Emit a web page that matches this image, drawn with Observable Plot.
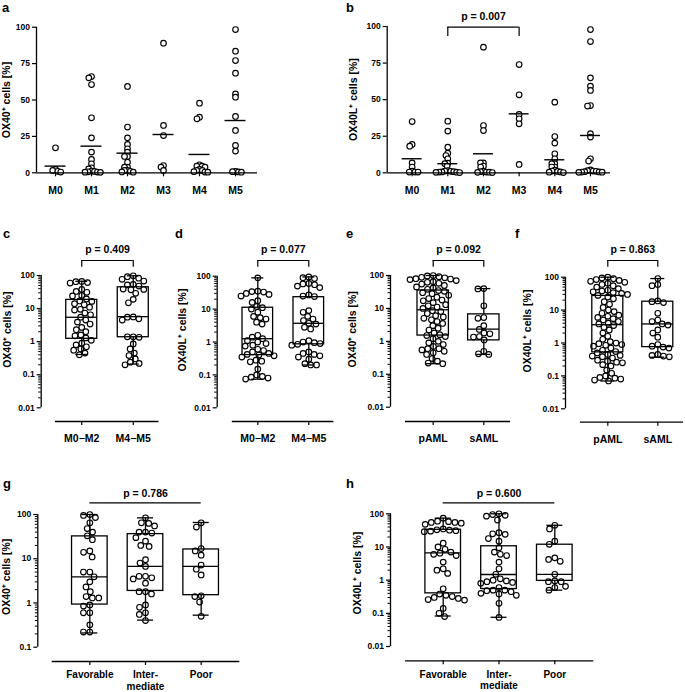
<!DOCTYPE html>
<html><head><meta charset="utf-8">
<script src="https://cdn.jsdelivr.net/npm/d3@7"></script>
<script src="https://cdn.jsdelivr.net/npm/@observablehq/plot@0.6"></script>
<style>
html,body{margin:0;padding:0;background:#fff;}
#fig{position:relative;width:685px;height:692px;background:#fff;font-family:'Liberation Sans',Arial,sans-serif;overflow:hidden;}
.letter{position:absolute;font-weight:bold;font-size:13px;line-height:1;color:#000;}
</style></head><body><div id="fig"></div>
<script>
// ---------- data ----------
const catsMorph = ["M0","M1","M2","M3","M4","M5"];
const aValues = [
  [17.2, 2.3, 1.6, 1.0, 0.5],
  [66.1, 65.2, 60.6, 37.8, 24, 14.2, 9.2, 6.2, 3.4, 2.7, 1.2, 0.9, 0.7, 0.5, 0.4, 0.3],
  [59.3, 31.4, 24, 19.5, 16.5, 14.2, 11.2, 11.2, 7.3, 3.9, 3.9, 1.6, 1.6, 1.0, 0.6, 0.4],
  [89, 32.5, 25.6, 5, 3.9, 1.6],
  [47.8, 38.2, 37.1, 5.5, 4.6, 4.6, 3.9, 2.3, 1.6, 1.6, 0.8, 0.5, 0.4],
  [98.4, 83.5, 77.1, 68.4, 54.2, 51.9, 38.7, 29.1, 18.8, 14.9, 1.0, 0.8, 0.6, 0.4]
];
const aMeans = [4.6, 18.3, 13.5, 26.3, 12.6, 35.9];
const bValues = [
  [35, 19.4, 18.2, 6.8, 3.9, 1.1, 0.5, 0.5, 0.5],
  [35.3, 28.5, 17.5, 13.4, 11.8, 9.6, 6.6, 6.2, 4.6, 1.5, 1.2, 1.0, 0.8, 0.6, 0.5, 0.4, 0.3, 0.2],
  [85.9, 32.3, 28.9, 6.8, 6.8, 4.6, 3.9, 1.1, 0.8, 0.5, 0.4, 0.3, 0.2],
  [74, 53.3, 39.9, 36.9, 33.5, 5.7],
  [48.3, 24.8, 20.3, 13, 9.6, 6.2, 6.2, 3.9, 3.9, 1.8, 1.2, 0.9, 0.6, 0.4, 0.2],
  [97.9, 89.7, 64.9, 59.2, 56.3, 46, 45.6, 26.7, 24.4, 9.6, 8, 2, 1.5, 1.2, 1.0, 0.8, 0.6, 0.5, 0.4, 0.3]
];
const bMeans = [9.6, 6.2, 13, 40.3, 8.9, 25.5];

const catsFab = ["M0\u2212M2", "M4\u2212M5"];
const cValues = [
  [66, 65, 61, 59, 38, 33, 31, 25, 24, 19.5, 17, 16.5, 14, 13, 11, 9.5, 9, 7.3, 6.5, 5.5, 4.5, 3.9, 3.4, 2.7, 2.3, 2.0, 1.6, 1.5, 1.3, 1.1, 0.9, 0.8, 0.7, 0.6, 0.55, 0.45, 0.4],
  [98, 92, 83, 77, 68, 54, 52, 48, 39, 38, 37, 29, 19, 15, 5.6, 5.5, 4.9, 4.5, 1.4, 1.4, 1.35, 0.85, 0.6, 0.45, 0.38, 0.3, 0.24, 0.22, 0.2]
];
const cBox = [[0.41, 1.22, 5.46, 18.3, 66.8], [0.21, 1.36, 5.7, 44, 98]];
const dValues = [
  [89, 35, 34, 33, 30, 28, 25, 18, 16, 12, 11, 10, 8, 6, 5.5, 5, 4, 3.5, 1.6, 1.4, 1.26, 1.1, 1.0, 0.9, 0.8, 0.75, 0.6, 0.55, 0.5, 0.45, 0.42, 0.4, 0.38, 0.35, 0.28, 0.26, 0.25, 0.15, 0.1, 0.09, 0.085, 0.08, 0.075],
  [95, 90, 85, 60, 58, 55, 50, 45, 27, 25, 24, 9, 8, 6, 5, 4.5, 3.7, 3.5, 2.8, 2.5, 1.1, 1.0, 0.95, 0.9, 0.85, 0.8, 0.5, 0.45, 0.42, 0.38, 0.35, 0.3, 0.22, 0.2, 0.2]
];
const dBox = [[0.074, 0.4, 1.26, 11, 89], [0.2, 0.85, 3.7, 23, 95]];

const catsOrigin = ["pAML", "sAML"];
const eValues = [
  [100, 97, 92, 88, 85, 80, 78, 75, 70, 65, 62, 58, 55, 50, 45, 42, 38, 35, 33, 30, 28, 25, 22, 20, 18, 17, 15, 13, 12, 11, 10,
   8.5, 8, 7, 6, 5.5, 5, 4.5, 4, 3.5, 3, 2.5, 2.2, 1.8, 1.6, 1.5, 1.4, 1.2, 1.0, 0.9, 0.8, 0.7, 0.6, 0.6, 0.55, 0.5, 0.45, 0.4, 0.3, 0.25, 0.22, 0.21],
  [40, 39, 12, 5.3, 5.0, 3.0, 2.3, 1.8, 1.7, 1.4, 1.35, 1.1, 0.5, 0.42, 0.4]
];
const eBox = [[0.21, 1.5, 9.1, 35, 100], [0.4, 1.07, 2.35, 6.6, 40]];
const fValues = [
  [100, 95, 90, 85, 80, 75, 70, 65, 60, 55, 50, 45, 40, 38, 36, 34, 32, 30, 28, 25, 22, 18, 15, 12, 10, 9, 8, 7, 6.5, 6, 5.5, 5, 4.5, 4, 3.8,
   3.4, 3, 2.5, 2, 1.6, 1.3, 1.1, 1.0, 0.95, 0.9, 0.85, 0.8, 0.7, 0.6, 0.55, 0.5, 0.45, 0.42, 0.4, 0.38, 0.35, 0.3, 0.28, 0.26, 0.25, 0.22, 0.2, 0.15, 0.12, 0.1, 0.09, 0.085, 0.08, 0.075, 0.07],
  [91, 60, 55, 19, 18, 17, 8, 5, 4.5, 3.8, 3.5, 2.5, 2, 1.5, 0.9, 0.8, 0.75, 0.7, 0.45, 0.42, 0.4, 0.38]
];
const fBox = [[0.07, 0.52, 3.6, 27, 100], [0.37, 0.75, 3.8, 18, 91]];

const catsRisk = ["Favorable", "Intermediate", "Poor"];
const gValues = [
  [100, 95, 85, 65, 48, 40, 33, 27, 15, 14, 11, 5, 5, 3.9, 3, 2.3, 1.8, 1.4, 1.3, 1.3, 0.9, 0.85, 0.6, 0.6, 0.32, 0.22, 0.22],
  [84, 65, 63, 55, 40, 40, 38, 30, 25, 20, 19, 9.5, 8, 6.7, 4, 4, 3.7, 3.5, 2.8, 1.8, 1.8, 1.6, 0.9, 0.8, 0.6, 0.55, 0.4],
  [65, 52, 17, 15, 12, 7.2, 5.8, 4.3, 1.45, 1.4, 1.05, 0.5]
];
const gBox = [[0.21, 0.92, 3.9, 32, 100], [0.41, 1.87, 6.7, 36, 84], [0.53, 1.5, 6.7, 16.2, 66]];
const hValues = [
  [74, 60, 58, 55, 55, 52, 48, 35, 33, 32, 31, 30, 29, 13, 10, 8.5, 7, 6.5, 6, 5.5, 3.5, 2.2, 2, 1.6, 0.55, 0.38, 0.35, 0.32, 0.3, 0.28, 0.26, 0.25, 0.14, 0.1, 0.08],
  [100, 95, 90, 85, 65, 27, 25, 24, 18, 15, 9.5, 7, 6, 5.5, 3.5, 2.2, 1.5, 1.1, 1.0, 0.95, 0.9, 0.85, 0.8, 0.6, 0.5, 0.5, 0.48, 0.45, 0.4, 0.38, 0.35, 0.2, 0.075],
  [45, 35, 15, 12, 4.7, 4.2, 3.7, 1.5, 0.95, 0.9, 0.9, 0.65, 0.6, 0.5]
];
const hBox = [[0.083, 0.4, 6.6, 33, 74], [0.076, 0.54, 1.48, 10.5, 100], [0.5, 0.95, 1.5, 11.7, 45]];

const linTicks = [0, 25, 50, 75, 100];
const logTicks4 = [0.01, 0.1, 1, 10, 100];
const logTicks3 = [0.1, 1, 10, 100];
const labelOX40 = "OX40\u207A cells [%]";
const labelOX40L = "OX40L\u207A cells [%]";

// ---------- drawing ----------
const FONT = "'Liberation Sans', Arial, Helvetica, sans-serif";
const fig = document.getElementById("fig");

function minorTicks(lo, hi) {
  const t = [];
  for (let e = Math.round(Math.log10(lo)); e < Math.round(Math.log10(hi)); e++)
    for (let m = 2; m <= 9; m++) t.push(+(m * Math.pow(10, e)).toPrecision(3));
  return t;
}

function panel(p) {
  const n = p.cats.length;
  const step = (p.width - p.mL - p.mR) / n;
  const rows = p.cats.flatMap((c, i) => p.values[i].map(v => ({cat: c, v})));
  const first = p.cats[0];
  const lw = 1.3;
  const ink = "black";
  const marks = [];

  // dots (beeswarm via dodge)
  marks.push(Plot.dot(rows, Plot.dodgeX({anchor: "middle", padding: p.pad},
    {fx: "cat", y: "v", r: 2.8, fill: "white", stroke: ink, strokeWidth: 1.15})));

  // boxes
  if (p.boxes) {
    const bx = p.cats.map((c, i) => ({cat: c, min: p.boxes[i][0], q1: p.boxes[i][1], med: p.boxes[i][2], q3: p.boxes[i][3], max: p.boxes[i][4]}));
    const st = {fx: "cat", stroke: ink, strokeWidth: lw};
    marks.push(
      Plot.ruleX(bx, {...st, x: 0, y1: "min", y2: "q1"}),
      Plot.ruleX(bx, {...st, x: 0, y1: "q3", y2: "max"}),
      Plot.ruleY(bx, {...st, y: "min", x1: -p.capHW, x2: p.capHW}),
      Plot.ruleY(bx, {...st, y: "max", x1: -p.capHW, x2: p.capHW}),
      Plot.rect(bx, {...st, x1: -p.boxHW, x2: p.boxHW, y1: "q1", y2: "q3", fill: "none"}),
      Plot.ruleY(bx, {...st, y: "med", x1: -p.boxHW, x2: p.boxHW})
    );
  }
  // mean lines
  if (p.means) {
    marks.push(Plot.ruleY(p.cats.map((c, i) => ({cat: c, m: p.means[i]})),
      {fx: "cat", y: "m", x1: -p.meanHW, x2: p.meanHW, stroke: ink, strokeWidth: 1.4}));
  }

  // x axis line (one continuous rule, possibly offset below) and y axis line
  marks.push(Plot.ruleY([first], {fx: d => d, y: p.yDomain[0], dy: p.lineDy || 0,
    x1: -step / 2 + (p.lineInsetL || 0), x2: (n - 0.5) * step - (p.lineInsetR || 0), stroke: ink, strokeWidth: lw}));
  marks.push(Plot.ruleX([first], {fx: d => d, x: -step / 2, y1: p.yDomain[0], y2: p.yDomain[1], dx: p.axisDx, stroke: ink, strokeWidth: lw}));

  // y axis ticks
  marks.push(Plot.axisY(p.yTicks, {anchor: "left", dx: p.axisDx, tickSize: 4, tickPadding: 2.5,
    fontSize: 8.5, fontWeight: "bold", fill: ink, stroke: ink, strokeWidth: 1.2,
    tickFormat: d => String(d), label: null}));
  if (p.yType === "log") {
    marks.push(Plot.axisY(minorTicks(p.yDomain[0], p.yDomain[1]), {anchor: "left", dx: p.axisDx, tickSize: 2.5,
      stroke: ink, strokeWidth: 1, tickFormat: () => "", label: null}));
  }
  // category axis
  marks.push(Plot.axisFx({anchor: "bottom", dy: p.lineDy || 0, tickSize: 4, tickPadding: p.fxPad,
    fontSize: p.fxSize || 10.5, fontWeight: "bold", fill: ink, stroke: ink, strokeWidth: 1.2,
    lineHeight: 1.12, label: null, tickFormat: p.fxFormat || (d => d)}));

  // y label
  marks.push(Plot.text([p.yLabel], {fx: () => first, frameAnchor: "left", rotate: -90, text: d => d,
    textAnchor: "middle", lineAnchor: "middle", dx: p.labelDx, dy: p.labelDy || 0,
    fontSize: 10.5, fontWeight: "bold", fill: ink}));

  // bracket / p-value line
  const br = p.bracket;
  if (br) {
    const span = (br.to - br.from) * step;
    const fc = p.cats[br.from];
    const yTop = p.yDomain[1];
    marks.push(Plot.ruleY([fc], {fx: d => d, y: yTop, x1: 0, x2: span, dy: br.dy, stroke: ink, strokeWidth: 1.2}));
    if (br.leg) marks.push(Plot.ruleX([0, span], {fx: () => fc, x: d => d, y1: yTop, y2: yTop, dy: br.dy,
      insetBottom: -br.leg, stroke: ink, strokeWidth: 1.2}));
    marks.push(Plot.text([br.label], {fx: () => fc, x: span / 2, y: yTop, dy: br.textDy, text: d => d,
      fontSize: 10.5, fontWeight: "bold", fill: ink}));
  }

  const svg = Plot.plot({
    width: p.width, height: p.height,
    marginLeft: p.mL, marginRight: p.mR, marginTop: p.mT, marginBottom: p.mB,
    fx: {domain: p.cats, padding: 0, round: false, label: null},
    x: {domain: [-step / 2, step / 2], axis: null},
    y: {type: p.yType, domain: p.yDomain, label: null},
    style: {fontFamily: FONT, background: "transparent", overflow: "visible", color: "black"},
    marks
  });
  svg.style.position = "absolute";
  svg.style.left = p.left + "px";
  svg.style.top = p.top + "px";
  fig.appendChild(svg);
}

const riskFormat = d => d === "Intermediate" ? "Inter-\nmediate" : d;

panel({cats: catsMorph, values: aValues, means: aMeans, meanHW: 10.5, left: 0, top: 0, width: 340, height: 200,
  mL: 37, mR: 87, mT: 26.7, mB: 27.7, yType: "linear", yDomain: [0, 100], yTicks: linTicks,
  axisDx: -1, lineInsetL: -1, lineInsetR: -4, labelDx: -31, labelDy: 0, fxPad: 8.5, pad: -2.6, yLabel: labelOX40});
panel({cats: catsMorph, values: bValues, means: bMeans, meanHW: 10, left: 340, top: 0, width: 345, height: 200,
  mL: 53.8, mR: 77.2, mT: 26, mB: 27.7, yType: "linear", yDomain: [0, 100], yTicks: linTicks,
  axisDx: -7.1, lineInsetL: -7.1, lineInsetR: -2.2, labelDx: -40.5, labelDy: 0, fxPad: 8.5, pad: -2.6, yLabel: labelOX40L,
  bracket: {from: 1, to: 3, dy: 0.7, leg: 9.3, textDy: -9.5, label: "p = 0.007"}});

panel({cats: catsFab, values: cValues, boxes: cBox, boxHW: 15.5, capHW: 6, left: 0, top: 210, width: 170, height: 240,
  mL: 55.5, mR: 11.5, mT: 65, mB: 42.7, yType: "log", yDomain: [0.01, 100], yTicks: logTicks4,
  axisDx: -14.8, lineDy: 13.7, lineInsetL: -0.5, lineInsetR: 0, labelDx: -48.8, labelDy: -12, fxPad: 8.5, pad: 0.3, yLabel: labelOX40,
  bracket: {from: 0, to: 1, dy: -15, leg: 6.7, textDy: -25.7, label: "p = 0.409"}});
panel({cats: catsFab, values: dValues, boxes: dBox, boxHW: 15.3, capHW: 6, left: 170, top: 210, width: 170, height: 240,
  mL: 61.8, mR: 6.2, mT: 65.7, mB: 42.7, yType: "log", yDomain: [0.01, 100], yTicks: logTicks4,
  axisDx: -15.1, lineDy: 13.7, lineInsetL: 0, lineInsetR: 0.5, labelDx: -49.3, labelDy: -12, fxPad: 8.5, pad: 0.3, yLabel: labelOX40L,
  bracket: {from: 0, to: 1, dy: -15.7, leg: 6.7, textDy: -26.4, label: "p = 0.077"}});
panel({cats: catsOrigin, values: eValues, boxes: eBox, boxHW: 15.7, capHW: 7, left: 340, top: 210, width: 170, height: 240,
  mL: 67.4, mR: 1.4, mT: 65, mB: 43.3, yType: "log", yDomain: [0.01, 100], yTicks: logTicks4,
  axisDx: -17.4, lineDy: 14.3, lineInsetL: -2.4, lineInsetR: -1.4, labelDx: -54.9, labelDy: -12, fxPad: 8.5, pad: 0.3, yLabel: labelOX40,
  bracket: {from: 0, to: 1, dy: -15, leg: 6.7, textDy: -25.7, label: "p = 0.092"}});
panel({cats: catsOrigin, values: fValues, boxes: fBox, boxHW: 15.5, capHW: 7, left: 510, top: 210, width: 175, height: 240,
  mL: 72.3, mR: 2.7, mT: 66.7, mB: 41.7, yType: "log", yDomain: [0.01, 100], yTicks: logTicks4,
  axisDx: -17.3, lineDy: 13.4, lineInsetL: -2.3, lineInsetR: -0.7, labelDx: -55.6, labelDy: -12, fxPad: 8.5, pad: 0.3, yLabel: labelOX40L,
  bracket: {from: 0, to: 1, dy: -16.7, leg: 6.7, textDy: -27.4, label: "p = 0.863"}});

panel({cats: catsRisk, values: gValues, boxes: gBox, boxHW: 17.8, capHW: 8, left: 0, top: 460, width: 340, height: 232,
  mL: 61.5, mR: 111.5, mT: 54, mB: 45.3, yType: "log", yDomain: [0.1, 100], yTicks: logTicks3,
  axisDx: -24.2, lineDy: 14.3, lineInsetL: -9.8, lineInsetR: -10.8, labelDx: -55.5, labelDy: -4, fxPad: 5, fxSize: 10, pad: 0.8, yLabel: labelOX40,
  fxFormat: riskFormat, bracket: {from: 0, to: 2, dy: -11.7, leg: 0, textDy: -21.3, label: "p = 0.786"}});
panel({cats: catsRisk, values: hValues, boxes: hBox, boxHW: 17.8, capHW: 8, left: 340, top: 460, width: 345, height: 232,
  mL: 74.8, mR: 102.8, mT: 53.3, mB: 46, yType: "log", yDomain: [0.01, 100], yTicks: logTicks4,
  axisDx: -24.8, lineDy: 14.3, lineInsetL: -9.8, lineInsetR: -11.1, labelDx: -58.1, labelDy: -7, fxPad: 5, fxSize: 10, pad: 0.8, yLabel: labelOX40L,
  fxFormat: riskFormat, bracket: {from: 0, to: 2, dy: -11, leg: 0, textDy: -20.6, label: "p = 0.600"}});

// panel letters
const letters = [["a", 2, 11.5], ["b", 346, 11.5], ["c", 3, 238], ["d", 175, 238], ["e", 346, 238], ["f", 515, 238], ["g", 3, 488], ["h", 346, 488]];
for (const [t, x, base] of letters) {
  const el = document.createElement("div");
  el.className = "letter";
  el.textContent = t;
  el.style.left = x + "px";
  el.style.top = (base - 11) + "px";
  fig.appendChild(el);
}
</script></body></html>
